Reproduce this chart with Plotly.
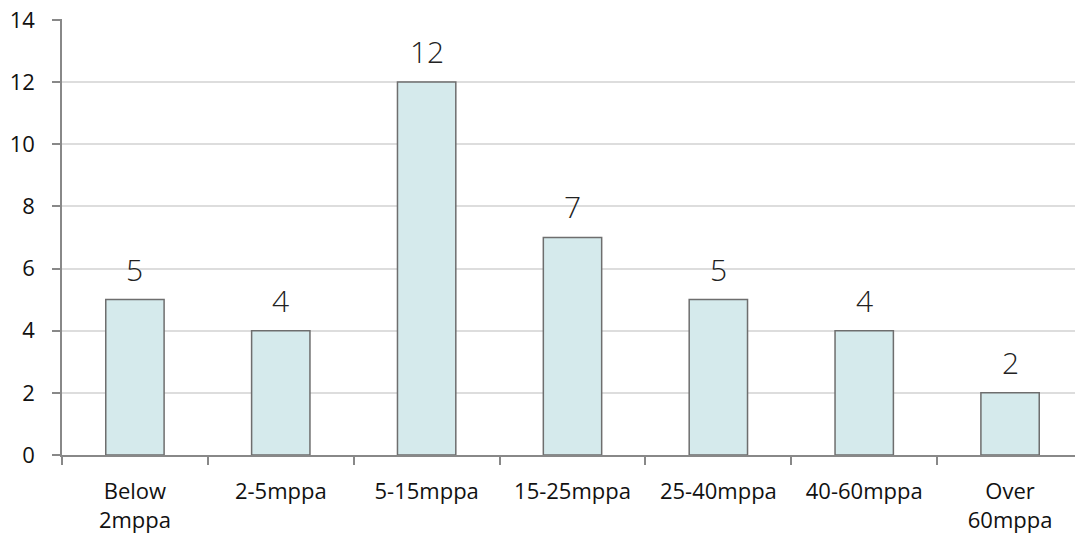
import plotly.graph_objects as go

categories = ["Below<br>2mppa", "2-5mppa", "5-15mppa", "15-25mppa", "25-40mppa", "40-60mppa", "Over<br>60mppa"]
values = [5, 4, 12, 7, 5, 4, 2]
y_ticks = [0, 2, 4, 6, 8, 10, 12, 14]

fig = go.Figure(go.Bar(
    x=categories, y=values,
    width=0.4,
    marker=dict(color="#d5eaec", line=dict(color="#6e6e6e", width=1.5)),
    hoverinfo="x+y",
))

for c, v in zip(categories, values):
    fig.add_annotation(
        x=c, y=v, text=str(v), showarrow=False,
        yanchor="bottom", yshift=8,
        font=dict(family="Open Sans", size=30, color="#222222", weight=300),
    )

fig.update_layout(
    width=1083, height=539,
    margin=dict(l=54, r=8, t=11, b=92, pad=0),
    paper_bgcolor="white", plot_bgcolor="white",
    showlegend=False,
    font=dict(family="Open Sans", size=22, color="#111111"),
)
fig.update_xaxes(
    range=[-0.5, 6.5], automargin=False,
    showline=True, linecolor="#888888", linewidth=1.5,
    ticks="outside", tickson="boundaries", ticklen=8, tickcolor="#888888", tickwidth=1.5,
    ticklabelstandoff=16, ticklabeloverflow="allow",
    showgrid=False,
    tickfont=dict(family="Open Sans", size=22, color="#111111"),
)
fig.update_yaxes(
    range=[0, 14.03], tickvals=y_ticks, automargin=False,
    showline=True, linecolor="#888888", linewidth=1.5,
    ticks="outside", ticklen=8, tickcolor="#888888", tickwidth=1.5,
    ticklabelstandoff=13, ticklabeloverflow="allow",
    showgrid=True, gridcolor="#dddddd", gridwidth=1.5,
    zeroline=False,
    tickfont=dict(family="Open Sans", size=22, color="#111111"),
)

fig.write_html("out.html")
